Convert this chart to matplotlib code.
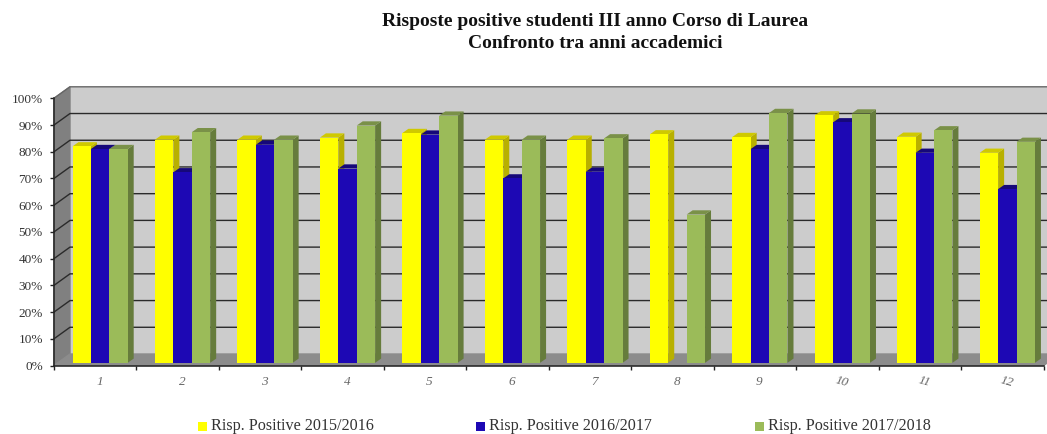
import matplotlib
matplotlib.use("Agg")
import matplotlib.pyplot as plt
from matplotlib.patches import Rectangle

categories = ["1", "2", "3", "4", "5", "6", "7", "8", "9", "10", "11", "12"]
y_ticks = [0, 10, 20, 30, 40, 50, 60, 70, 80, 90, 100]
series_names = ["Risp. Positive 2015/2016", "Risp. Positive 2016/2017", "Risp. Positive 2017/2018"]
val_2015 = [81, 83.5, 83.5, 84.3, 86, 83.5, 83.5, 85.5, 84.5, 92.6, 84.6, 78.6]
val_2016 = [80, 71.3, 81.6, 72.7, 85.4, 69, 71.5, 0, 80, 90, 78.6, 65]
val_2017 = [80, 86.3, 83.5, 88.8, 92.5, 83.5, 84, 55.5, 93.5, 93.3, 87, 82.7]

plt.rcParams["font.family"] = ["Liberation Serif", "DejaVu Serif"]

W, H = 1047, 434
fig = plt.figure(figsize=(W / 100, H / 100), dpi=100)

# axes = front plane of the 3D box, pixels measured on the reference
left, right, top, bottom = 54, 1043.7, 98.3, 365.5
ax = fig.add_axes([left / W, 1 - bottom / H, (right - left) / W, (bottom - top) / H])
ax.set_xlim(0, 12)
ax.set_ylim(0, 100)
px_x = 12 / (right - left)
px_y = 100 / (bottom - top)

# depth of the box and of the bars
dx, dy = 16 * px_x, 11.5 * px_y
bx, by = 6 * px_x, 4.2 * px_y
base = 2.7 * px_y
bar_w = 18.4 * px_x
bar_start = 18.5 * px_x

# walls
ax.fill([dx, 12 + dx, 12 + dx, dx], [dy, dy, 100 + dy, 100 + dy], color="#cccccc", clip_on=False, zorder=1)
ax.fill([0, dx, dx, 0], [0, dy, 100 + dy, 100], color="#808080", clip_on=False, zorder=1)
ax.fill([0, 12, 12 + dx, dx], [0, 0, dy, dy], color="#8c8c8c", clip_on=False, zorder=1)
for t in y_ticks[1:-1]:
    ax.plot([0, dx, 12 + dx], [t, t + dy, t + dy], color="#2a2a2a", lw=1, clip_on=False, zorder=2)
ax.plot([0, dx, 12 + dx], [100, 100 + dy, 100 + dy], color="#666666", lw=1, clip_on=False, zorder=2)

# bars
styles = [
    (val_2015, "#ffff00", "#b8b000", "#cfc900"),
    (val_2016, "#1d08b4", "#150a80", "#16087a"),
    (val_2017, "#9bbb59", "#667c3c", "#7a9148"),
]
for j, (vals, front, side, cap) in enumerate(styles):
    for i, v in enumerate(vals):
        if v == 0:
            continue
        x0 = i + bar_start + j * bar_w
        x1 = x0 + bar_w
        ax.fill([x1, x1 + bx, x1 + bx, x1], [base, base + by, v + by + base, v + base], color=side, lw=0, zorder=3)
        ax.fill([x0, x1, x1 + bx, x0 + bx], [v + base, v + base, v + by + base, v + by + base], color=cap, lw=0, zorder=3)
        ax.bar(x0, v, width=bar_w, bottom=base, align="edge", color=front, lw=0, zorder=3)

# axis lines and labels
for s in ["top", "right"]:
    ax.spines[s].set_visible(False)
for s in ["left", "bottom"]:
    ax.spines[s].set_color("#222222")
    ax.spines[s].set_linewidth(1.1)
    ax.spines[s].set_zorder(5)
ax.set_yticks(y_ticks)
ax.set_yticklabels([f"{t}%" for t in y_ticks], fontsize=9.5, color="#333333")
ax.set_xticks(range(13))
ax.set_xticklabels([])
ax.tick_params(axis="both", length=3, width=1, color="#222222", pad=5)
ax.patch.set_visible(False)

for i, c in enumerate(categories):
    ax.annotate(c, (i + 0.55, 0), xytext=(0, -16.5), xycoords="data", textcoords="offset pixels",
                ha="center", va="center", fontsize=9.5, style="italic", color="#666666",
                rotation=-15 if i > 8 else 0, annotation_clip=False)

# title
fig.text(595 / W, 1 - 21 / H, "Risposte positive studenti III anno Corso di Laurea", ha="center", va="center",
         fontsize=14, fontweight="bold", color="#111111")
fig.text(595 / W, 1 - 43 / H, "Confronto tra anni accademici", ha="center", va="center",
         fontsize=14, fontweight="bold", color="#111111")

# legend
legend_x = [198, 476, 755]
legend_colors = [styles[0][1], styles[1][1], styles[2][1]]
for x, name, col in zip(legend_x, series_names, legend_colors):
    fig.add_artist(Rectangle((x / W, 1 - 431 / H), 9 / W, 9 / H, transform=fig.transFigure, color=col, lw=0))
    fig.text((x + 13) / W, 1 - 426 / H, name, ha="left", va="center", fontsize=11.6, color="#333333")

fig.savefig("out.png", dpi=100)
